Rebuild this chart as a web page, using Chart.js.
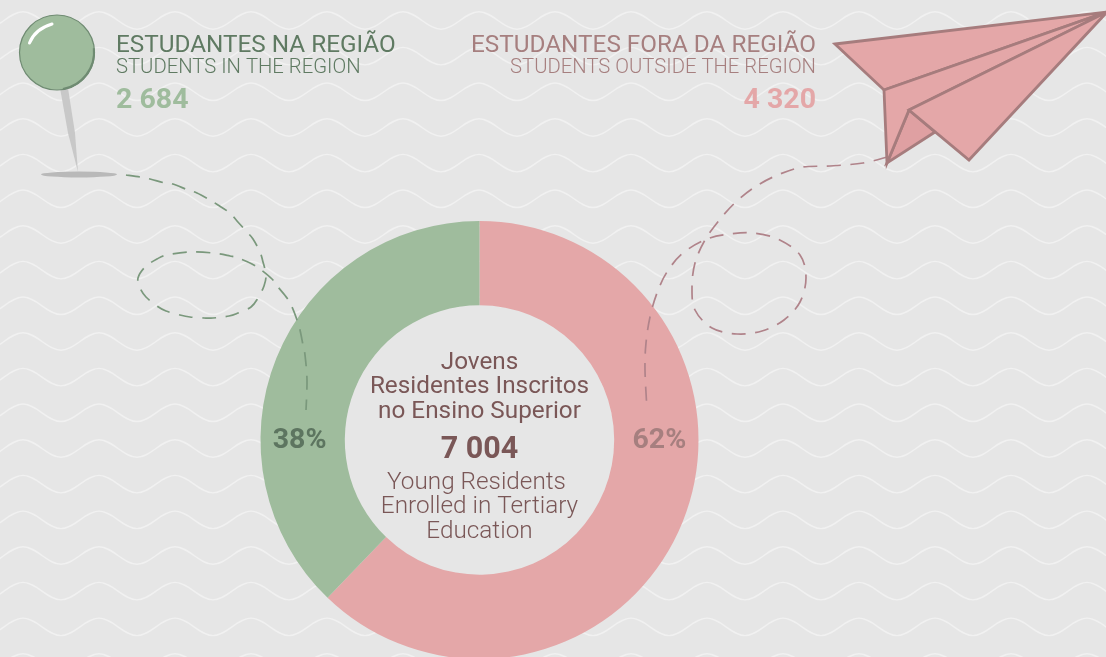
<!DOCTYPE html>
<html>
<head>
<meta charset="utf-8">
<title>Estudantes</title>
<script src="https://cdn.jsdelivr.net/npm/chart.js@4"></script>
<style>
  html, body { margin: 0; padding: 0; width: 1106px; height: 657px; overflow: hidden; background: #e6e6e6; }
  canvas { display: block; }
</style>
</head>
<body>
<canvas id="donut" width="1106" height="700"></canvas>
<script>
// Data
const categories = ['Estudantes fora da região', 'Estudantes na região'];
const students = [4320, 2684];
const totalStudents = 7004;
const shares = [62.2, 37.8]; // measured off the ring, labels round them
const sliceColors = ['#e4a7a8', '#9fbc9d'];
const percentColors = ['#a67f7f', '#5d7560'];

// "7004" -> "7 004"
function spaced(n) {
  return String(n).replace(/\B(?=(\d{3})+$)/g, ' ');
}

// Dashed flight paths, sampled by eye
const pinPath = [[126,175],[140,177],[150,179],[165,183],[173,184],[188,190],[197,193],[210,200],[218,205],[230,213],[237,221],
  [247,232],[253,239],[260,252],[263,262],[266,275],[264,286],[258,298],[251,307],[238,313],[229,316],[213,318],[204,318],
  [190,317],[180,315],[166,311],[157,306],[146,297],[140,288],[138,278],[145,267],[157,259],[167,255],[190,252],[213,253],
  [230,256],[238,258],[252,264],[260,269],[272,279],[278,287],[287,298],[292,307],[297,320],[300,330],[303,345],[305,355],
  [307,380],[306,410]];
const planePath = [[887,157],[863,163],[830,166],[803,167],[780,174],[758,185],[738,200],[721,218],[705,240],[695,263],[692,287],
  [695,310],[712,328],[737,334],[762,331],[784,320],[800,302],[806,278],[800,255],[778,239],[753,233],[730,234],[707,239],
  [683,253],[667,272],[657,293],[650,317],[646,343],[645,370],[647,410]];

function drawWaves(ctx) {
  ctx.save();
  ctx.strokeStyle = '#f1f1f1';
  ctx.lineWidth = 1.4;
  const half = 38;
  for (let row = 0; row < 20; row++) {
    const crest = 11.7 + row * 35.67;
    const trough = crest + 17.5;
    ctx.beginPath();
    let x = -53;
    ctx.moveTo(x, crest);
    let down = true;
    while (x < 1150) {
      const y0 = down ? crest : trough;
      const y1 = down ? trough : crest;
      ctx.bezierCurveTo(x + half * 0.36, y0, x + half * 0.64, y1, x + half, y1);
      x += half;
      down = !down;
    }
    ctx.stroke();
  }
  ctx.restore();
}

function smoothLine(ctx, pts) {
  ctx.beginPath();
  ctx.moveTo(pts[0][0], pts[0][1]);
  for (let i = 0; i < pts.length - 1; i++) {
    const p0 = pts[Math.max(i - 1, 0)];
    const p1 = pts[i];
    const p2 = pts[i + 1];
    const p3 = pts[Math.min(i + 2, pts.length - 1)];
    ctx.bezierCurveTo(
      p1[0] + (p2[0] - p0[0]) / 6, p1[1] + (p2[1] - p0[1]) / 6,
      p2[0] - (p3[0] - p1[0]) / 6, p2[1] - (p3[1] - p1[1]) / 6,
      p2[0], p2[1]);
  }
  ctx.stroke();
}

function poly(ctx, pts) {
  ctx.beginPath();
  pts.forEach((p, i) => (i ? ctx.lineTo(p[0], p[1]) : ctx.moveTo(p[0], p[1])));
  ctx.closePath();
}

function drawPin(ctx) {
  ctx.save();
  // shadow
  ctx.fillStyle = '#b9b9b9';
  ctx.beginPath();
  ctx.ellipse(79, 174.5, 38, 3, 0, 0, Math.PI * 2);
  ctx.fill();
  // needle
  ctx.fillStyle = '#c8c8c8';
  poly(ctx, [[60,88],[68,88],[75,133],[78,172],[68,133]]);
  ctx.fill();
  // head
  ctx.fillStyle = '#9fbc9d';
  ctx.strokeStyle = '#6f8b72';
  ctx.lineWidth = 1.2;
  ctx.beginPath();
  ctx.arc(57, 52.5, 37.5, 0, Math.PI * 2);
  ctx.fill();
  ctx.stroke();
  ctx.strokeStyle = '#6f8b72';
  ctx.lineWidth = 2;
  ctx.beginPath();
  ctx.arc(56.5, 52, 37.5, -0.1, 1.4);
  ctx.stroke();
  // highlight
  ctx.strokeStyle = '#ffffff';
  ctx.lineWidth = 3;
  ctx.lineCap = 'round';
  ctx.beginPath();
  ctx.moveTo(29.5, 43);
  ctx.quadraticCurveTo(35, 29, 52, 24);
  ctx.stroke();
  ctx.restore();
}

function drawPlane(ctx) {
  ctx.save();
  ctx.lineJoin = 'miter';
  ctx.strokeStyle = '#a67c7d';
  ctx.lineWidth = 2.8;
  const nose = [1107, 12];
  // lower fold, behind the wing
  ctx.fillStyle = '#dfa0a2';
  poly(ctx, [[909,110],[887,163],[935,132]]);
  ctx.fill();
  ctx.stroke();
  // top wing and body
  ctx.fillStyle = '#e4a7a8';
  poly(ctx, [[835,44], nose, [884,90]]);
  ctx.fill();
  ctx.stroke();
  poly(ctx, [[884,90], nose, [909,110], [887,163]]);
  ctx.fill();
  ctx.stroke();
  poly(ctx, [[909,110], nose, [969,160]]);
  ctx.fill();
  ctx.stroke();
  ctx.restore();
}

function text(ctx, str, x, y, font, color, align) {
  ctx.font = font;
  ctx.fillStyle = color;
  ctx.textAlign = align || 'left';
  ctx.textBaseline = 'alphabetic';
  ctx.fillText(str, x, y);
}

const backdrop = {
  id: 'backdrop',
  beforeDraw(chart) {
    const ctx = chart.ctx;
    ctx.save();
    ctx.fillStyle = '#e6e6e6';
    ctx.fillRect(0, 0, chart.width, chart.height);
    drawWaves(ctx);
    // the hole is flat, the waves stop there
    const arc = chart.getDatasetMeta(0).data[0];
    ctx.fillStyle = '#e6e6e6';
    ctx.beginPath();
    ctx.arc(arc.x, arc.y, arc.innerRadius, 0, Math.PI * 2);
    ctx.fill();
    ctx.restore();
  },
  afterDraw(chart) {
    const ctx = chart.ctx;
    const arc = chart.getDatasetMeta(0).data[0];
    const cx = arc.x;
    const mid = (arc.innerRadius + arc.outerRadius) / 2;
    ctx.save();

    // dashes
    ctx.lineWidth = 1.7;
    ctx.setLineDash([14, 9.5]);
    ctx.strokeStyle = '#7a987c';
    smoothLine(ctx, pinPath);
    ctx.strokeStyle = '#b0838a';
    smoothLine(ctx, planePath);
    ctx.setLineDash([]);

    drawPin(ctx);
    drawPlane(ctx);

    // header, left
    text(ctx, 'ESTUDANTES NA REGIÃO', 116, 52, '400 24.3px Roboto', '#5f7a62');
    text(ctx, 'STUDENTS IN THE REGION', 116, 73, '300 20.25px Roboto', '#5f7a62');
    text(ctx, spaced(students[1]), 116, 108, '700 28.5px Roboto', '#9fbc9d');

    // header, right
    text(ctx, 'ESTUDANTES FORA DA REGIÃO', 816, 52, '400 24.3px Roboto', '#a67f7f', 'right');
    text(ctx, 'STUDENTS OUTSIDE THE REGION', 816, 73, '300 20.25px Roboto', '#a67f7f', 'right');
    text(ctx, spaced(students[0]), 816, 108, '700 28.5px Roboto', '#e4a7a8', 'right');

    // centre
    const dark = '#7a5757';
    text(ctx, 'Jovens', cx, 369, '400 24.3px Roboto', dark, 'center');
    text(ctx, 'Residentes Inscritos', cx, 393, '400 24.3px Roboto', dark, 'center');
    text(ctx, 'no Ensino Superior', cx, 418, '400 24.3px Roboto', dark, 'center');
    text(ctx, spaced(totalStudents), cx, 458, '700 30.5px Roboto', dark, 'center');
    text(ctx, 'Young Residents', cx - 3, 489, '300 24.3px Roboto', dark, 'center');
    text(ctx, 'Enrolled in Tertiary', cx, 513, '300 24.3px Roboto', dark, 'center');
    text(ctx, 'Education', cx, 538, '300 24.3px Roboto', dark, 'center');

    // percentages sit on the ring, level with the centre
    shares.forEach((v, i) => {
      const x = i === 0 ? cx + mid + 3 : cx - mid - 3;
      text(ctx, Math.round(v) + '%', x, 448, '700 28.5px Roboto', percentColors[i], 'center');
    });
    ctx.restore();
  }
};

new Chart(document.getElementById('donut').getContext('2d'), {
  type: 'doughnut',
  data: {
    labels: categories,
    datasets: [{
      data: shares,
      backgroundColor: sliceColors,
      borderWidth: 0,
      hoverOffset: 0
    }]
  },
  options: {
    responsive: false,
    animation: false,
    cutout: '61.5%',
    layout: { padding: { left: 260.5, right: 407.5, top: 221, bottom: 41 } },
    plugins: { legend: { display: false }, tooltip: { enabled: false } }
  },
  plugins: [backdrop]
});
</script>
</body>
</html>
